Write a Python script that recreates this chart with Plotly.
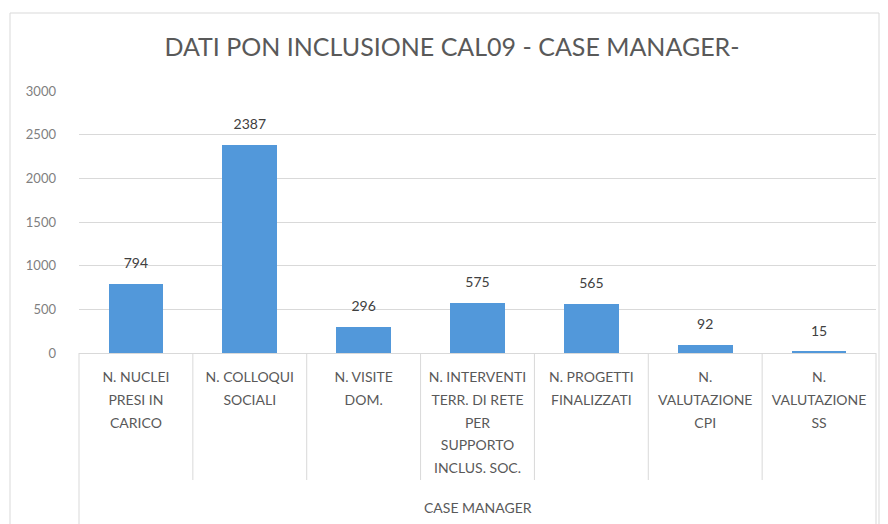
import plotly.graph_objects as go

title_text = "DATI PON INCLUSIONE CAL09 - CASE MANAGER-"
group_label = "CASE MANAGER"
category_lines = [
    ["N. NUCLEI", "PRESI IN", "CARICO"],
    ["N. COLLOQUI", "SOCIALI"],
    ["N. VISITE", "DOM."],
    ["N. INTERVENTI", "TERR. DI RETE", "PER", "SUPPORTO", "INCLUS. SOC."],
    ["N. PROGETTI", "FINALIZZATI"],
    ["N.", "VALUTAZIONE", "CPI"],
    ["N.", "VALUTAZIONE", "SS"],
]
values = [794, 2387, 296, 575, 565, 92, 15]
y_ticks = [0, 500, 1000, 1500, 2000, 2500, 3000]

FONT = "Lato"
GREY = "#595959"
LINE = "#d9d9d9"
BAR = "#5298DA"

n = len(values)
xpos = list(range(n))
ticktext = ["<br>".join("<span style='font-size:14px'>%s</span>" % s for s in lines)
            for lines in category_lines]

fig = go.Figure()
fig.add_trace(go.Bar(x=xpos, y=values, marker=dict(color=BAR, line=dict(width=0)),
                     width=0.48, hoverinfo="skip"))
fig.add_trace(go.Scatter(x=xpos, y=values, mode="markers+text", text=[str(v) for v in values],
                         textposition="top center",
                         textfont=dict(family=FONT, size=14, color="#404040"),
                         marker=dict(size=18, opacity=0), cliponaxis=False, hoverinfo="skip"))

L, R, T, B = 79, 12, 91, 171
W, H = 888, 524
pw, ph = W - L - R, H - T - B

shapes = []
# chart border
shapes.append(dict(type="rect", xref="paper", yref="paper",
                   x0=(10 - L) / pw, x1=(879 - L) / pw, y0=-(H - T) / ph, y1=(T + ph - 13) / ph,
                   line=dict(color=LINE, width=1), fillcolor="rgba(0,0,0,0)", layer="below"))
# category dividers
for i in range(n + 1):
    outer = i == 0 or i == n
    shapes.append(dict(type="line", xref="paper", yref="paper", x0=i / n, x1=i / n,
                       y0=0, y1=(-0.7 if outer else -(480 - (T + ph)) / ph),
                       line=dict(color=LINE, width=1)))

fig.update_layout(
    width=W, height=H,
    margin=dict(l=L, r=R, t=T, b=B),
    paper_bgcolor="white", plot_bgcolor="white",
    showlegend=False,
    bargap=0,
    title=dict(text=title_text, x=452 / W, xanchor="center", xref="container",
               y=1 - 47 / H, yanchor="middle", yref="container",
               font=dict(family=FONT, size=25, color=GREY)),
    xaxis=dict(range=[-0.5, n - 0.5], tickvals=xpos, ticktext=ticktext,
               tickfont=dict(family=FONT, size=17.5, color=GREY),
               showgrid=False, zeroline=False, showline=True, linecolor=LINE, linewidth=1,
               ticks="", ticklabelstandoff=7, fixedrange=True),
    yaxis=dict(range=[0, 3000], tickvals=y_ticks, tickfont=dict(family=FONT, size=13, color="#7f7f7f"),
               showgrid=True, gridcolor=LINE, gridwidth=1, zeroline=False, showline=False,
               ticks="", ticklabelstandoff=22, fixedrange=True),
    shapes=shapes,
    annotations=[dict(text=group_label, xref="paper", yref="paper", x=0.5, y=-(507 - (T + ph)) / ph,
                      xanchor="center", yanchor="middle", showarrow=False,
                      font=dict(family=FONT, size=14, color=GREY))],
)

fig.write_html("out.html")
